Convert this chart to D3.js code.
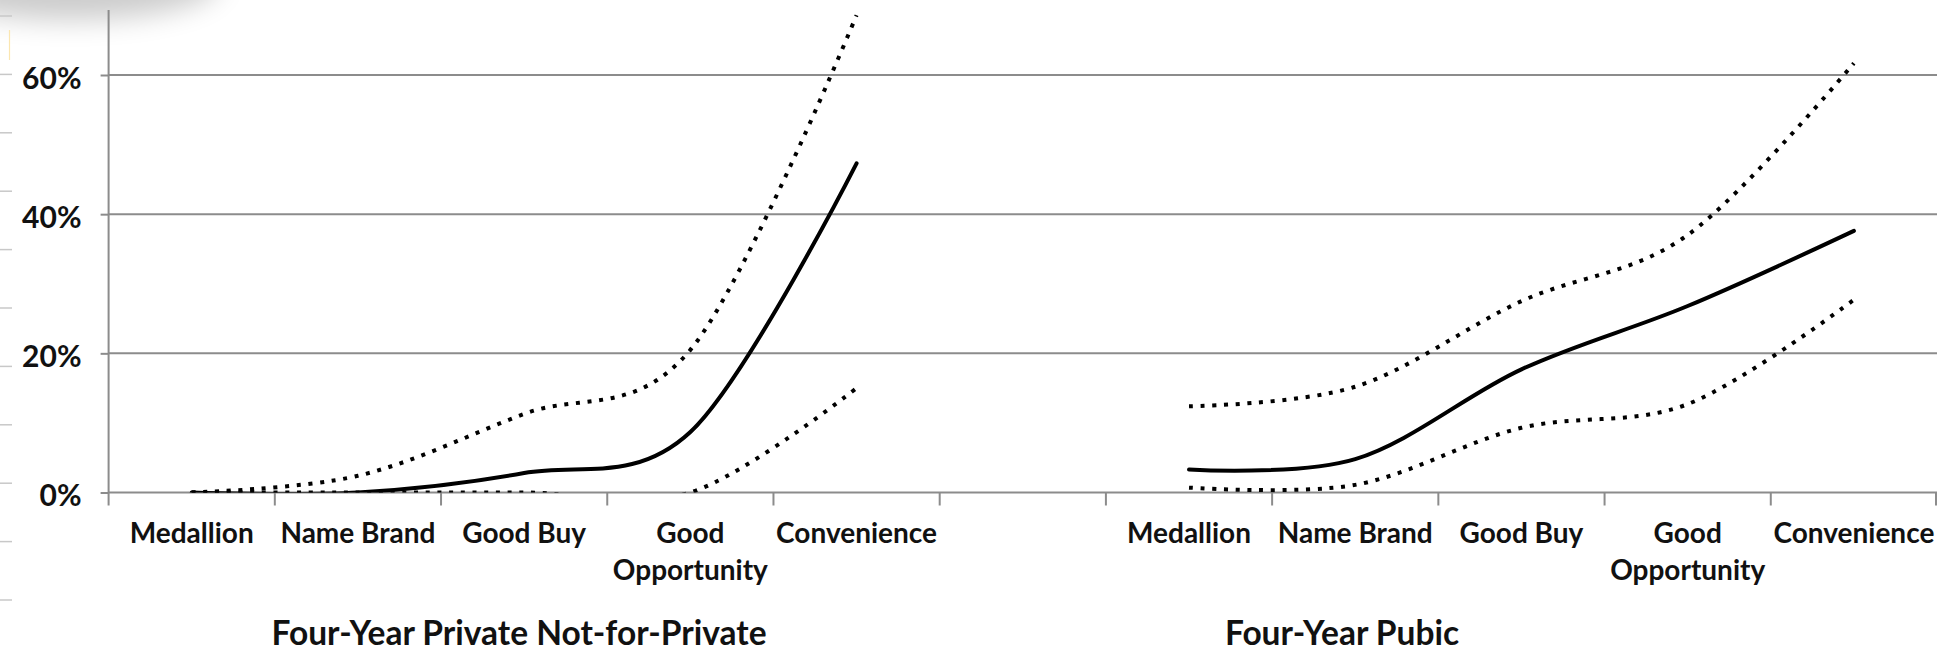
<!DOCTYPE html>
<html>
<head>
<meta charset="utf-8">
<script src="https://cdn.jsdelivr.net/npm/d3@7"></script>
<style>
  html, body { margin: 0; padding: 0; background: #fff; }
  svg { display: block; }
  text { font-family: Lato, "Open Sans", sans-serif; font-weight: 700; fill: #111; }
</style>
</head>
<body>
<svg id="chart" width="1940" height="652"></svg>
<script>
// Categories shared by both institution groups
const categories = ["Medallion", "Name Brand", "Good Buy", "Good Opportunity", "Convenience"];
const groups = ["Four-Year Private Not-for-Private", "Four-Year Pubic"];

// Share of institutions (%) — central estimate and upper / lower bounds
const privateMid  = [0, 0, 2.8, 8.7, 47.3];
const privateHigh = [0, 2.4, 11.3, 20.5, 68.6];
const privateLow  = [0, 0, 0, 0, 15.0];
const publicMid   = [3.3, 4.8, 17.7, 26.8, 37.6];
const publicHigh  = [12.4, 15.2, 27.5, 37.0, 61.7];
const publicLow   = [0.7, 1.1, 9.3, 12.7, 27.7];

const yTicks = [0, 20, 40, 60];

// Layout
const plotLeft = 108.6, plotRight = 1937, plotTop = 10;
const svg = d3.select("#chart");

// One continuous category axis: 5 private slots, a spacer, 5 public slots
const slots = [
  ...categories.map(c => "private|" + c),
  "spacer",
  ...categories.map(c => "public|" + c)
];
const x = d3.scaleBand().domain(slots).range([plotLeft, plotRight]).padding(0);
const y = d3.scaleLinear().domain([0, 60]).range([492.5, 75]);
const yMax = y.invert(plotTop);

// Soft shadow in the top-left corner
const defs = svg.append("defs");
defs.append("filter").attr("id", "soft").attr("x", "-50%").attr("y", "-100%")
  .attr("width", "200%").attr("height", "300%")
  .append("feGaussianBlur").attr("stdDeviation", 14);
defs.append("clipPath").attr("id", "plot")
  .append("rect")
  .attr("x", plotLeft).attr("y", plotTop)
  .attr("width", plotRight - plotLeft).attr("height", y(0) - plotTop);

svg.append("ellipse")
  .attr("cx", 70).attr("cy", -18).attr("rx", 150).attr("ry", 38)
  .attr("fill", "#000").attr("opacity", 0.2)
  .attr("filter", "url(#soft)");

// Ruler marks along the left edge
svg.append("g").selectAll("line")
  .data(d3.range(11))
  .join("line")
  .attr("x1", 0).attr("x2", 12)
  .attr("y1", i => 16 + i * 58.4).attr("y2", i => 16 + i * 58.4)
  .attr("stroke", "#c8c8c8").attr("stroke-width", 1.5);
svg.append("line")
  .attr("x1", 9.5).attr("x2", 9.5).attr("y1", 30).attr("y2", 60)
  .attr("stroke", "#fbe6b0").attr("stroke-width", 1.2);

const gridColor = "#8c8c8c";

// Horizontal gridlines
svg.append("g").selectAll("line")
  .data(yTicks.filter(v => v > 0))
  .join("line")
  .attr("x1", plotLeft).attr("x2", plotRight)
  .attr("y1", d => y(d)).attr("y2", d => y(d))
  .attr("stroke", gridColor).attr("stroke-width", 2);

// Y axis
const yAxis = d3.axisLeft(y).tickValues(yTicks).tickSize(8).tickPadding(0)
  .tickFormat(d => d + "%");
const gy = svg.append("g").attr("transform", `translate(${plotLeft},0)`).call(yAxis);
gy.select(".domain").remove();
gy.selectAll(".tick line").attr("stroke", gridColor).attr("stroke-width", 2);
gy.selectAll(".tick text")
  .attr("x", 81.5 - plotLeft).attr("dy", null).attr("y", 13.3)
  .attr("text-anchor", "end")
  .style("font-size", "30px").style("font-family", "Lato, sans-serif").style("font-weight", 700)
  .attr("fill", "#111");
svg.append("line")
  .attr("x1", plotLeft).attr("x2", plotLeft)
  .attr("y1", y(yMax)).attr("y2", y(0) + 13)
  .attr("stroke", gridColor).attr("stroke-width", 2);

// X axis line and tick marks between categories
svg.append("line")
  .attr("x1", plotLeft).attr("x2", plotRight)
  .attr("y1", y(0)).attr("y2", y(0))
  .attr("stroke", gridColor).attr("stroke-width", 2);
svg.append("g").selectAll("line")
  .data(slots.slice(1).concat([null]))
  .join("line")
  .attr("x1", d => d ? x(d) : x.range()[1] - 1)
  .attr("x2", d => d ? x(d) : x.range()[1] - 1)
  .attr("y1", y(0)).attr("y2", y(0) + 13)
  .attr("stroke", gridColor).attr("stroke-width", 2);

// Category labels
const labelG = svg.append("g");
slots.filter(s => s !== "spacer").forEach(s => {
  const name = s.split("|")[1];
  const cx = x(s) + x.bandwidth() / 2;
  const t = labelG.append("text")
    .attr("x", cx).attr("y", 543)
    .attr("text-anchor", "middle")
    .style("font-size", "28px");
  if (name === "Good Opportunity") {
    t.append("tspan").attr("x", cx).attr("y", 543).text("Good");
    t.append("tspan").attr("x", cx).attr("y", 580).text("Opportunity");
  } else {
    t.text(name);
  }
});

// Group labels
svg.append("text").attr("x", 519).attr("y", 645)
  .attr("text-anchor", "middle").style("font-size", "33.5px").text(groups[0]);
svg.append("text").attr("x", 1342).attr("y", 645)
  .attr("text-anchor", "middle").style("font-size", "33.5px").text(groups[1]);

// Smoothed series lines
const line = d3.line()
  .x(d => x(d.slot) + x.bandwidth() / 2)
  .y(d => y(d.value))
  .curve(d3.curveCatmullRom.alpha(0));

const series = [
  { prefix: "private", values: privateHigh, dotted: true },
  { prefix: "private", values: privateLow, dotted: true },
  { prefix: "private", values: privateMid, dotted: false },
  { prefix: "public", values: publicHigh, dotted: true },
  { prefix: "public", values: publicLow, dotted: true },
  { prefix: "public", values: publicMid, dotted: false }
];

const lines = svg.append("g").attr("clip-path", "url(#plot)");
series.forEach(s => {
  const pts = categories.map((c, i) => ({ slot: s.prefix + "|" + c, value: s.values[i] }));
  const p = lines.append("path")
    .attr("d", line(pts))
    .attr("fill", "none")
    .attr("stroke", "#000");
  if (s.dotted) {
    p.attr("stroke-width", 4).attr("stroke-dasharray", "4 7.7");
  } else {
    p.attr("stroke-width", 4).attr("stroke-linecap", "round");
  }
});
</script>
</body>
</html>
